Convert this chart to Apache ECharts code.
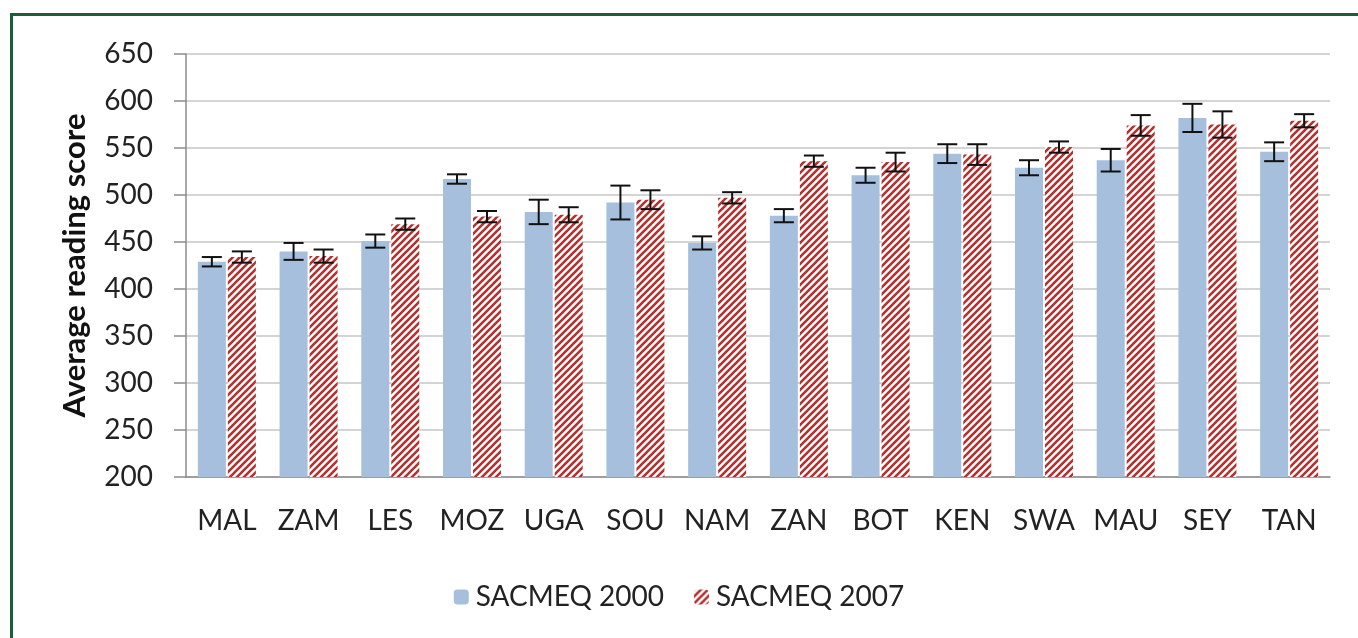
<!DOCTYPE html>
<html>
<head>
<meta charset="utf-8">
<script src="https://cdn.jsdelivr.net/npm/echarts@6/dist/echarts.min.js"></script>
<style>
  html, body { margin: 0; padding: 0; background: #fff; }
  #frame {
    position: absolute; left: 10px; top: 13px; width: 1400px; height: 700px;
    border-left: 3px solid #1b5e3a; border-top: 3px solid #1b5e3a;
    box-sizing: border-box;
  }
  #chart { position: absolute; left: 0; top: 0; width: 1358px; height: 638px; }
</style>
</head>
<body>
<div id="frame"></div>
<div id="chart"></div>
<script>
const countries = ['MAL', 'ZAM', 'LES', 'MOZ', 'UGA', 'SOU', 'NAM', 'ZAN', 'BOT', 'KEN', 'SWA', 'MAU', 'SEY', 'TAN']
const score2000 = [429, 440, 451, 517, 482, 492, 449, 478, 521, 544, 529, 537, 582, 546]
const err2000 = [5, 9, 7, 5, 13, 18, 7, 7, 8, 10, 8, 12, 15, 10]
const score2007 = [434, 435, 469, 477, 479, 495, 497, 536, 535, 543, 551, 574, 575, 579]
const err2007 = [6, 7, 6, 6, 8, 10, 6, 6, 10, 11, 6, 11, 14, 7]

const barWidth = 28
const barGap = 2
const fontFamily = 'Lato, "Open Sans", sans-serif'

// diagonal red stripes like the excel pattern fill
function stripes() {
  const c = document.createElement('canvas')
  const s = 7
  c.width = s
  c.height = s
  const ctx = c.getContext('2d')
  ctx.fillStyle = '#fff'
  ctx.fillRect(0, 0, s, s)
  ctx.strokeStyle = '#b3312f'
  ctx.lineWidth = 2.6
  ctx.beginPath()
  ctx.moveTo(-1, s + 1); ctx.lineTo(s + 1, -1)
  ctx.moveTo(-1, 1); ctx.lineTo(1, -1)
  ctx.moveTo(s - 1, s + 1); ctx.lineTo(s + 1, s - 1)
  ctx.stroke()
  return c
}

function errorSeries(values, errs, shift) {
  return {
    type: 'custom',
    silent: true,
    z: 10,
    data: values.map((v, i) => [i, v - errs[i], v + errs[i]]),
    renderItem: function (params, api) {
      const lo = api.coord([api.value(0), api.value(1)])
      const hi = api.coord([api.value(0), api.value(2)])
      const x = lo[0] + shift
      const w = 10
      const style = { stroke: '#111', lineWidth: 2 }
      return {
        type: 'group',
        children: [
          { type: 'line', shape: { x1: x, y1: hi[1], x2: x, y2: lo[1] }, style },
          { type: 'line', shape: { x1: x - w, y1: hi[1], x2: x + w, y2: hi[1] }, style },
          { type: 'line', shape: { x1: x - w, y1: lo[1], x2: x + w, y2: lo[1] }, style }
        ]
      }
    }
  }
}

const chart = echarts.init(document.getElementById('chart'))
const shift = (barWidth + barGap) / 2

chart.setOption({
  animation: false,
  grid: { left: 186, right: 28, top: 54, bottom: 161 },
  legend: {
    top: 578,
    left: 'center',
    itemWidth: 15,
    itemHeight: 15,
    itemGap: 30,
    data: ['SACMEQ 2000', 'SACMEQ 2007'],
    textStyle: { fontFamily, fontSize: 28, color: '#222', padding: [0, 0, 0, 2] }
  },
  xAxis: {
    type: 'category',
    data: countries,
    axisLine: { lineStyle: { color: '#8c8c8c', width: 1.5 } },
    axisTick: { length: 9, lineStyle: { color: '#8c8c8c', width: 1.5 } },
    axisLabel: { interval: 0, fontFamily, fontSize: 28, color: '#222', margin: 30 }
  },
  yAxis: {
    type: 'value',
    min: 200,
    max: 650,
    interval: 50,
    name: 'Average reading score',
    nameLocation: 'middle',
    nameGap: 96,
    nameTextStyle: { fontFamily, fontSize: 31, fontWeight: 'bold', color: '#111' },
    axisLine: { show: true, lineStyle: { color: '#8c8c8c', width: 1.5 } },
    axisTick: { show: true, inside: false, length: 12, lineStyle: { color: '#8c8c8c', width: 1.5 } },
    axisLabel: { fontFamily, fontSize: 28, color: '#222', margin: 33 },
    splitLine: { lineStyle: { color: '#d4d4d4', width: 2 } }
  },
  series: [
    {
      name: 'SACMEQ 2000',
      type: 'bar',
      data: score2000,
      barWidth,
      barGap: (barGap / barWidth * 100) + '%',
      itemStyle: { color: '#a5bfdd' }
    },
    {
      name: 'SACMEQ 2007',
      type: 'bar',
      data: score2007,
      barWidth,
      itemStyle: { color: { image: stripes(), repeat: 'repeat' } }
    },
    errorSeries(score2000, err2000, -shift),
    errorSeries(score2007, err2007, shift)
  ]
})
</script>
</body>
</html>
